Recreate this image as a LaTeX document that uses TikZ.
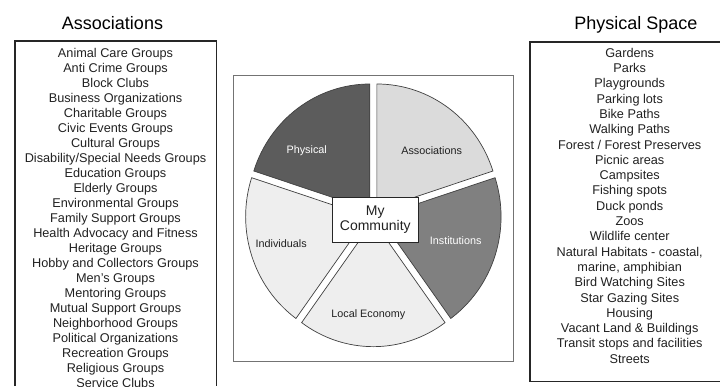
\documentclass[tikz,border=0pt]{standalone}
\usepackage{fontspec}
\setmainfont{Liberation Sans}
\usepackage{xcolor}
\usetikzlibrary{calc,positioning}
\definecolor{sliceDark}{gray}{0.36}
\definecolor{sliceMid}{gray}{0.50}
\definecolor{sliceLight}{gray}{0.86}
\definecolor{slicePale}{gray}{0.935}
\definecolor{inkgray}{gray}{0.13}

\begin{document}
\begin{tikzpicture}[x=1pt,y=1pt,
  listtext/.style={anchor=base,inner sep=0pt,text=inkgray,font=\fontsize{12.7}{15}\selectfont},
  titletext/.style={anchor=base,inner sep=0pt,font=\fontsize{18}{20}\selectfont},
  slicetext/.style={inner sep=0pt,font=\fontsize{10.8}{12}\selectfont},
  slice/.style={draw=black!75,line width=0.7pt},
  boxline/.style={draw=black!85,line width=1.3pt}]
\useasboundingbox (0,0) rectangle (720,-386);

\def\assocList{Animal Care Groups,Anti Crime Groups,Block Clubs,Business Organizations,%
Charitable Groups,Civic Events Groups,Cultural Groups,Disability/Special Needs Groups,%
Education Groups,Elderly Groups,Environmental Groups,Family Support Groups,%
Health Advocacy and Fitness,Heritage Groups,Hobby and Collectors Groups,Men's Groups,%
Mentoring Groups,Mutual Support Groups,Neighborhood Groups,Political Organizations,%
Recreation Groups,Religious Groups,Service Clubs}

\def\physList{Gardens,Parks,Playgrounds,Parking lots,Bike Paths,Walking Paths,%
Forest / Forest Preserves,Picnic areas,Campsites,Fishing spots,Duck ponds,Zoos,%
Wildlife center,{Natural Habitats - coastal,},{marine, amphibian},Bird Watching Sites,%
Star Gazing Sites,Housing,Vacant Land \& Buildings,Transit stops and facilities,Streets}

% titles
\node[titletext] (assocTitle) at (112.5,-29.3) {Associations};
\node[titletext] (physTitle) at (636,-29.3) {Physical Space};

% the two list boxes (both run off the page)
\draw[boxline] (15,-386) -- (15,-41) -- (216.5,-41) -- (216.5,-386);
\draw[boxline] (720,-42) -- (530,-42) -- (530,-381.7) -- (720,-381.7);

\foreach \n [count=\ni] in \assocList
  \node[listtext] (assoc\ni) at (115.5,{-57.2-15*(\ni-1)}) {\n};

\foreach \n [count=\ni] in \physList
  \node[listtext] (phys\ni) at (629.7,{-57.2-15.3*(\ni-1)}) {\n};

% frame round the pie
\draw[black!55,line width=0.9pt] (233.3,-75) rectangle (513.3,-361.7);

% draw the exploded pie
\def\rx{122}
\def\ry{125.9}
\def\gap{6}
\coordinate (pieCentre) at (373.35,-214.75);
\foreach \startA/\col in {90/sliceDark,18/sliceLight,-54/sliceMid,-126/slicePale,162/slicePale}
{
  \pgfmathsetmacro\endA{\startA+72}
  \pgfmathsetmacro\midA{\startA+36}
  \filldraw[slice,fill=\col] ($(pieCentre)+(\midA:\gap)$) -- ++(\startA:\rx\space and \ry)
    arc[start angle=\startA,end angle=\endA,x radius=\rx,y radius=\ry] -- cycle;
}

% label the slices
\node[slicetext,text=white] (physLabel) at (306.7,-150.7) {Physical};
\node[slicetext,text=inkgray] (assocLabel) at (431.7,-150.7) {Associations};
\node[slicetext,text=white] (instLabel) at (455.7,-240.7) {Institutions};
\node[slicetext,text=inkgray] (indivLabel) at (281.2,-244) {Individuals};
\node[slicetext,text=inkgray] (econLabel) at (368.3,-315) {Local Economy};

\node[draw=black!85,fill=white,line width=0.8pt,minimum width=86pt,minimum height=45.4pt,
      inner sep=0pt,align=center,font=\fontsize{14}{15}\selectfont,text=inkgray]
      (myCommunity) at (375.3,-220) {My\\Community};
\end{tikzpicture}
\end{document}
